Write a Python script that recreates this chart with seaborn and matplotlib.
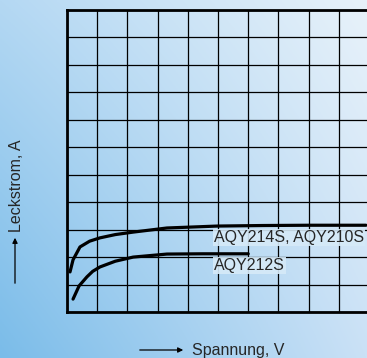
import numpy as np
import pandas as pd
import matplotlib
matplotlib.use("Agg")
import matplotlib.pyplot as plt
import seaborn as sns

# curve readings (grid units: 10 columns x 11 rows)
upper_x = [0.10, 0.20, 0.43, 0.75, 1.09, 1.60, 2.19, 3.31, 4.97, 6.50, 8.00, 9.90]
upper_y = [1.46, 1.90, 2.37, 2.58, 2.70, 2.82, 2.91, 3.06, 3.13, 3.15, 3.16, 3.16]
lower_x = [0.20, 0.40, 0.66, 0.85, 1.09, 1.60, 2.19, 3.31, 4.50, 6.00]
lower_y = [0.47, 0.95, 1.28, 1.48, 1.64, 1.85, 2.00, 2.11, 2.12, 2.12]
upper_name = "AQY214S, AQY210S"
lower_name = "AQY212S"
x_label = "Spannung, V"
y_label = "Leckstrom, A"

sns.set_style("white")
plt.rcParams['font.family'] = ['Liberation Sans', 'DejaVu Sans']

df = pd.concat([
    pd.DataFrame({'x': upper_x, 'y': upper_y, 'curve': upper_name}),
    pd.DataFrame({'x': lower_x, 'y': lower_y, 'curve': lower_name}),
])

W, H = 367, 358
fig = plt.figure(figsize=(W / 100, H / 100), dpi=100)

# gradient background
bg = fig.add_axes([0, 0, 1, 1], zorder=-1)
tl = np.array([180, 216, 243]) / 255
tr = np.array([232, 242, 250]) / 255
bl = np.array([122, 188, 233]) / 255
br = np.array([202, 225, 246]) / 255
u = np.linspace(0, 1, 200)[None, :, None]
v = np.linspace(0, 1, 200)[:, None, None]
img = (1 - v) * ((1 - u) * tl + u * tr) + v * ((1 - u) * bl + u * br)
bg.imshow(img, extent=[0, 1, 0, 1], aspect='auto')
bg.set_axis_off()

ax = fig.add_axes([67 / W, 46 / H, 302 / W, 302 / H])
ax.set_facecolor('none')
sns.lineplot(data=df, x='x', y='y', hue='curve', palette=['black', 'black'],
             linewidth=2.3, legend=False, sort=False, ax=ax)
ax.set_xlim(0, 10)
ax.set_ylim(0, 11)
ax.set_xticks(range(11))
ax.set_yticks(range(12))
ax.grid(True, color='black', linewidth=0.9)
ax.tick_params(length=0, labelbottom=False, labelleft=False)
ax.set_xlabel('')
ax.set_ylabel('')
for s in ['left', 'bottom', 'top']:
    ax.spines[s].set_linewidth(2)
    ax.spines[s].set_color('black')
ax.spines['right'].set_visible(False)

box = dict(facecolor='#d6eaf8', edgecolor='none', pad=0.8, alpha=0.9)
ax.text(4.87, 2.70, upper_name, fontsize=11.5, va='center', ha='left', bbox=box, zorder=5)
ax.text(4.87, 1.68, lower_name, fontsize=11.5, va='center', ha='left', bbox=box, zorder=5)

# axis labels with arrows
fig.text(17 / W, 1 - 186 / H, y_label, rotation=90, fontsize=11.5, ha='center', va='center')
fig.add_artist(matplotlib.patches.FancyArrowPatch(
    (15 / W, 1 - 286 / H), (15 / W, 1 - 235 / H), transform=fig.transFigure,
    arrowstyle='-|>,head_length=3,head_width=1.5', color='black', linewidth=0.9))
fig.text(238 / W, 1 - 350 / H, x_label, fontsize=11.5, ha='center', va='center')
fig.add_artist(matplotlib.patches.FancyArrowPatch(
    (137 / W, 1 - 350 / H), (186 / W, 1 - 350 / H), transform=fig.transFigure,
    arrowstyle='-|>,head_length=3,head_width=1.5', color='black', linewidth=0.9))

fig.savefig('out.png', dpi=100)
